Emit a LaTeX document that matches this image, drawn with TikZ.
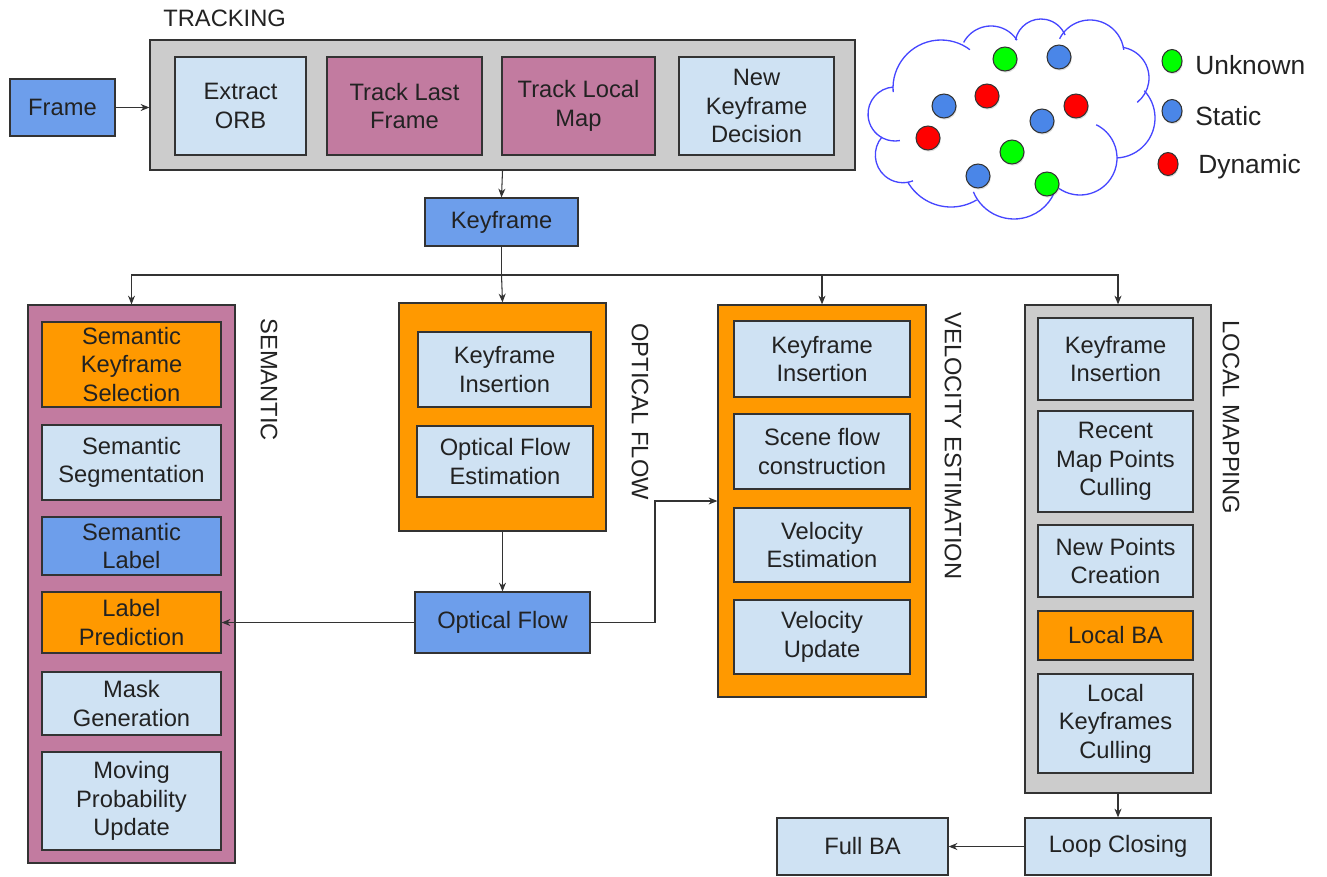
\documentclass[tikz,border=0pt]{standalone}
\usepackage{fontspec}
\setmainfont{Liberation Sans}
\usetikzlibrary{arrows.meta,shapes.geometric,shadows}
\definecolor{lightblue}{HTML}{CFE2F3}
\definecolor{midblue}{HTML}{6D9EEB}
\definecolor{mauve}{HTML}{C27BA0}
\definecolor{orangebox}{HTML}{FF9900}
\definecolor{greybox}{HTML}{CCCCCC}
\definecolor{edge}{HTML}{333333}
\definecolor{ink}{HTML}{222222}
\definecolor{dotblue}{HTML}{4A86E8}
\definecolor{dotgreen}{HTML}{00FF00}
\definecolor{dotred}{HTML}{FF0000}
\definecolor{cloudline}{HTML}{4646FF}

% box from its corners (x1,y1)-(x2,y2), in pixel units
\newcommand\boxnode[7]{\node[#6, minimum width={(#4-#2)*0.02cm}, minimum height={(#5-#3)*0.02cm}] (#1) at ({(#2+#4)/2},{(#3+#5)/2}) {#7};}
% one puff of the cloud outline: centre (#1,#2), radius #3, from angle #4 to #5
\newcommand\puff[5]{\draw[cloudedge] ([shift={(#4:#3)}]#1,#2) arc[start angle=#4, end angle=#5, radius=#3];}

\tikzset{
  txt/.style={text=ink, font=\fontsize{13.5}{16.3}\selectfont},
  box/.style={txt, draw=edge, line width=0.7pt, inner sep=0pt, align=center},
  lb/.style={box, fill=lightblue},
  bb/.style={box, fill=midblue},
  mb/.style={box, fill=mauve},
  ob/.style={box, fill=orangebox},
  gb/.style={box, fill=greybox},
  grouplabel/.style={txt, inner sep=0pt},
  arr/.style={draw=edge, line width=0.6pt, -{Stealth[length=5pt,width=4pt]}},
  wire/.style={draw=edge, line width=0.6pt},
  cloudedge/.style={draw=cloudline, line width=0.75pt},
  dotshadow/.style={drop shadow={shadow xshift=0.5pt, shadow yshift=-0.9pt, opacity=0.25}},
  dot/.style={circle, draw=edge, line width=0.6pt, minimum size=0.48cm, inner sep=0pt, dotshadow},
  legenddot/.style={ellipse, draw=edge, line width=0.6pt, minimum width=0.40cm, minimum height=0.46cm, inner sep=0pt, dotshadow},
  legendtxt/.style={txt, anchor=west, inner sep=0pt, font=\fontsize{15}{18}\selectfont},
}

\begin{document}
\begin{tikzpicture}[x=0.02cm, y=-0.02cm]
\useasboundingbox (0,0) rectangle (1327,876);

% ---------------- tracking ----------------
\node[grouplabel, anchor=west] (trklbl) at (163,18) {TRACKING};
\boxnode{tracking}{150}{40}{855}{170}{gb}{}
\boxnode{extract}{175}{57}{306}{155}{lb}{Extract\\ORB}
\boxnode{tlast}{327}{57}{482}{155}{mb}{Track Last\\Frame}
\boxnode{tlocal}{502}{57}{655}{155}{mb}{Track Local\\Map}
\boxnode{newkf}{679}{57}{834}{155}{lb}{New\\Keyframe\\Decision}
\boxnode{frame}{10}{79}{115}{136}{bb}{Frame}
\boxnode{keyframe}{425}{198}{578}{246}{bb}{Keyframe}

% ---------------- semantic ----------------
\boxnode{semantic}{28}{305}{235}{863}{mb}{}
\boxnode{sks}{42}{322}{221}{407}{ob}{Semantic\\Keyframe\\Selection}
\boxnode{sseg}{42}{425}{221}{500}{lb}{Semantic\\Segmentation}
\boxnode{slab}{42}{517}{221}{575}{bb}{Semantic\\Label}
\boxnode{lpred}{42}{592}{221}{653}{ob}{Label\\Prediction}
\boxnode{mgen}{42}{672}{221}{735}{lb}{Mask\\Generation}
\boxnode{mpu}{42}{752}{221}{850}{lb}{Moving\\Probability\\Update}
\node[grouplabel, rotate=-90, anchor=west] (semlbl) at (269,318) {SEMANTIC};

% ---------------- optical flow ----------------
\boxnode{optical}{399}{303}{606}{531}{ob}{}
\boxnode{kfia}{418}{332}{591}{407}{lb}{Keyframe\\Insertion}
\boxnode{ofe}{417}{426}{593}{497}{lb}{Optical Flow\\Estimation}
\node[grouplabel, rotate=-90, anchor=west] (optlbl) at (640,323) {OPTICAL FLOW};
\boxnode{oflow}{415}{592}{590}{653}{bb}{Optical Flow}

% ---------------- velocity estimation ----------------
\boxnode{velocity}{718}{305}{926}{697}{ob}{}
\boxnode{kfib}{734}{321}{910}{397}{lb}{Keyframe\\Insertion}
\boxnode{sfc}{734}{414}{910}{489}{lb}{Scene flow\\construction}
\boxnode{vest}{734}{508}{910}{582}{lb}{Velocity\\Estimation}
\boxnode{vupd}{734}{600}{910}{674}{lb}{Velocity\\Update}
\node[grouplabel, rotate=-90, anchor=west] (vellbl) at (953,312) {VELOCITY ESTIMATION};

% ---------------- local mapping ----------------
\boxnode{localmap}{1025}{305}{1211}{793}{gb}{}
\boxnode{kfic}{1038}{318}{1193}{400}{lb}{Keyframe\\Insertion}
\boxnode{rmpc}{1038}{411}{1193}{512}{lb}{Recent\\Map Points\\Culling}
\boxnode{npc}{1038}{525}{1193}{597}{lb}{New Points\\Creation}
\boxnode{lba}{1038}{611}{1193}{660}{ob}{Local BA}
\boxnode{lkc}{1038}{674}{1193}{773}{lb}{Local\\Keyframes\\Culling}
\node[grouplabel, rotate=-90, anchor=west] (loclbl) at (1231,320) {LOCAL MAPPING};

\boxnode{loop}{1025}{818}{1211}{875}{lb}{Loop Closing}
\boxnode{fullba}{777}{818}{948}{875}{lb}{Full BA}

% ---------------- connectors ----------------
\draw[arr] (frame.east) -- (frame.east -| tracking.west);
\draw[arr] (tracking.south) -- (keyframe.north);
\coordinate (split) at (501.5,275);
\draw[wire] (keyframe.south) -- (split);
\draw[arr] (split) -| (semantic.north);
\draw[arr] (split) -- (optical.north);
\draw[arr] (split) -| (velocity.north);
\draw[arr] (split) -| (localmap.north);
\draw[arr] (optical.south) -- (oflow.north);
\draw[arr] (oflow.west) -- (oflow.west -| lpred.east);
\coordinate (bend) at (655,622.5);
\draw[arr] (oflow.east) -- (bend) |- (velocity.west);
\draw[arr] (localmap.south) -- (loop.north);
\draw[arr] (loop.west) -- (fullba.east);

% ---------------- point cloud ----------------
\puff{895}{114}{27}{266}{79.5}
\puff{903}{155}{27.7}{220.6}{69}
\puff{951}{157}{50}{150}{59.3}
\puff{1014}{175}{44}{157.5}{9}
\puff{1080}{158}{37}{124.5}{-64}
\puff{1115}{118}{40}{87}{-43}
\puff{1118}{78}{31}{-81}{51.6}
\puff{1090}{54}{34}{206.6}{353}
\puff{1041}{45}{26}{191}{337.4}
\puff{991}{57}{31}{208}{327}
\puff{941}{88}{48}{175}{307}

\node[dot, fill=dotgreen] (p1) at (1005,59) {};
\node[dot, fill=dotblue]  (p2) at (1059,57) {};
\node[dot, fill=dotred]   (p3) at (987,96) {};
\node[dot, fill=dotblue]  (p4) at (944,106) {};
\node[dot, fill=dotred]   (p5) at (1076,106) {};
\node[dot, fill=dotblue]  (p6) at (1042,121) {};
\node[dot, fill=dotred]   (p7) at (928,138) {};
\node[dot, fill=dotgreen] (p8) at (1012,152) {};
\node[dot, fill=dotblue]  (p9) at (978,176) {};
\node[dot, fill=dotgreen] (p10) at (1047,184) {};

% legend
\node[legenddot, fill=dotgreen] (lgu) at (1172,61) {};
\node[legenddot, fill=dotblue]  (lgs) at (1172,111) {};
\node[legenddot, fill=dotred]   (lgd) at (1168,164) {};
\node[legendtxt] (lgut) at (1195,65) {Unknown};
\node[legendtxt] (lgst) at (1195,116) {Static};
\node[legendtxt] (lgdt) at (1198,167) {Dynamic};
\end{tikzpicture}
\end{document}
